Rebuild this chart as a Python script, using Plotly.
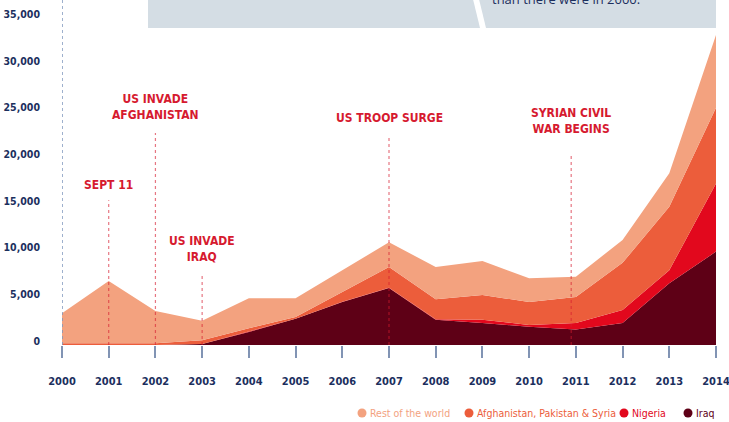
import plotly.graph_objects as go

# ---------------------------------------------------------------------------
# Data: deaths from terrorism, 2000-2014 (stacked)
# ---------------------------------------------------------------------------
years = list(range(2000, 2015))
iraq = [0, 0, 0, 100, 1400, 2800, 4600, 6100, 2700, 2350, 1950, 1650, 2350, 6600, 10000]
nigeria = [0, 0, 0, 0, 20, 20, 20, 20, 50, 350, 200, 700, 1400, 1400, 7300]
afg_pak_syria = [200, 200, 200, 400, 380, 180, 1080, 2230, 2150, 2650, 2450, 2800, 5050, 6800, 8100]
rest_world = [3200, 6650, 3450, 2100, 3200, 2000, 2300, 2650, 3450, 3650, 2550, 2150, 2450, 3600, 7800]

y_ticks = [0, 5000, 10000, 15000, 20000, 25000, 30000, 35000]
y_tick_text = ["0", "5,000", "10,000", "15,000", "20,000", "25,000", "30,000", "35,000"]

# events: (year, label, label centre y, top of dotted line)
events = [
    (2001, "SEPT 11", 17100, 15500),
    (2002, "US INVADE<br>AFGHANISTAN", 25500, 22700),
    (2003, "US INVADE<br>IRAQ", 10300, 7600),
    (2007, "US TROOP SURGE", 24300, 22300),
    (2010.9, "SYRIAN CIVIL<br>WAR BEGINS", 24000, 20300),
]

series = [
    ("Iraq", iraq, "#5e0016"),
    ("Nigeria", nigeria, "#e2081d"),
    ("Afghanistan, Pakistan & Syria", afg_pak_syria, "#ec5d3b"),
    ("Rest of the world", rest_world, "#f3a27f"),
]

FONT = "DejaVu Sans Condensed, sans-serif"
NAVY = "#1c2f5e"
EVENT_RED = "#d61a2f"

W, H = 729, 422
L, R, T, B = 62, 13, 0, 77
PW, PH = W - L - R, H - T - B


def px_x(px):
    return (px - L) / PW


def px_y(py):
    return (H - B - py) / PH


fig = go.Figure()
for name, vals, color in series:
    fig.add_trace(go.Scatter(
        x=years, y=vals, name=name,
        mode="lines", line=dict(width=0, color=color),
        fillcolor=color, stackgroup="one",
        hovertemplate=name + " %{x}: %{y:,}<extra></extra>",
    ))

shapes = []
annotations = []

# dotted y-axis line
shapes.append(dict(type="line", xref="x", yref="paper", x0=2000, x1=2000, y0=0, y1=1,
                   line=dict(color="#7f97bd", width=1.5, dash="dot"), layer="above"))

for yr, label, ly, ltop in events:
    shapes.append(dict(type="line", xref="x", yref="y", x0=yr, x1=yr, y0=0, y1=ltop,
                       line=dict(color="rgba(214,26,47,0.6)", width=1.2, dash="dot"),
                       layer="above"))
    annotations.append(dict(x=yr, y=ly, xref="x", yref="y", text="<b>" + label + "</b>",
                            showarrow=False, font=dict(family=FONT, size=12, color=EVENT_RED),
                            xanchor="center", yanchor="middle", align="center"))

# top grey panel (cut off in the reference)
shapes.append(dict(type="rect", xref="paper", yref="paper",
                   x0=px_x(148), x1=px_x(716), y0=px_y(28), y1=px_y(-5),
                   fillcolor="#d4dde4", line=dict(width=0), layer="above"))
shapes.append(dict(type="path", xref="paper", yref="paper",
                   path=f"M {px_x(472)} {px_y(-5)} L {px_x(478)} {px_y(-5)} "
                        f"L {px_x(486)} {px_y(28)} L {px_x(480)} {px_y(28)} Z",
                   fillcolor="white", line=dict(width=0), layer="above"))
annotations.append(dict(x=px_x(490), y=px_y(-1), xref="paper", yref="paper",
                        text="than there were in 2000.", showarrow=False,
                        xanchor="left", yanchor="middle",
                        font=dict(family="Open Sans, sans-serif", size=13, color=NAVY)))

# custom legend: dot + coloured text
legend_items = [
    ("Rest of the world", "#f3a27f", 362),
    ("Afghanistan, Pakistan & Syria", "#ec5d3b", 469),
    ("Nigeria", "#e2081d", 624),
    ("Iraq", "#5e0016", 688),
]
ly_px = 413
for text, color, cx in legend_items:
    shapes.append(dict(type="circle", xref="paper", yref="paper",
                       xsizemode="pixel", ysizemode="pixel",
                       xanchor=px_x(cx), yanchor=px_y(ly_px),
                       x0=-4.5, x1=4.5, y0=-4.5, y1=4.5,
                       fillcolor=color, line=dict(width=0)))
    annotations.append(dict(x=px_x(cx + 6), y=px_y(ly_px), xref="paper", yref="paper",
                            text=text, showarrow=False,
                            xanchor="left", yanchor="middle",
                            font=dict(family=FONT, size=10.5, color=color)))

fig.update_layout(
    width=W, height=H,
    margin=dict(l=L, r=R, t=T, b=B),
    paper_bgcolor="white", plot_bgcolor="white",
    showlegend=False,
    shapes=shapes,
    annotations=annotations,
    xaxis=dict(
        range=[2000, 2014], tickvals=years, ticktext=[f"<b>{y}</b>" for y in years],
        showgrid=False, zeroline=False, showline=False,
        ticks="outside", ticklen=12, tickwidth=1.5, tickcolor="#8194b4",
        ticklabelstandoff=14, ticklabeloverflow="allow",
        tickfont=dict(family=FONT, size=11, color=NAVY),
    ),
    yaxis=dict(
        range=[0, 36940], tickvals=y_ticks, ticktext=[f"<b>{t}</b>" for t in y_tick_text],
        showgrid=False, zeroline=False, showline=False, ticks="",
        ticklabelstandoff=21, ticklabelshift=-4,
        tickfont=dict(family=FONT, size=10.5, color=NAVY),
    ),
)

# remove the page's default body margin so the figure sits at the window corner
fig.write_html("out.html", config={"displayModeBar": False},
               post_script="document.body.style.margin = '0';")
